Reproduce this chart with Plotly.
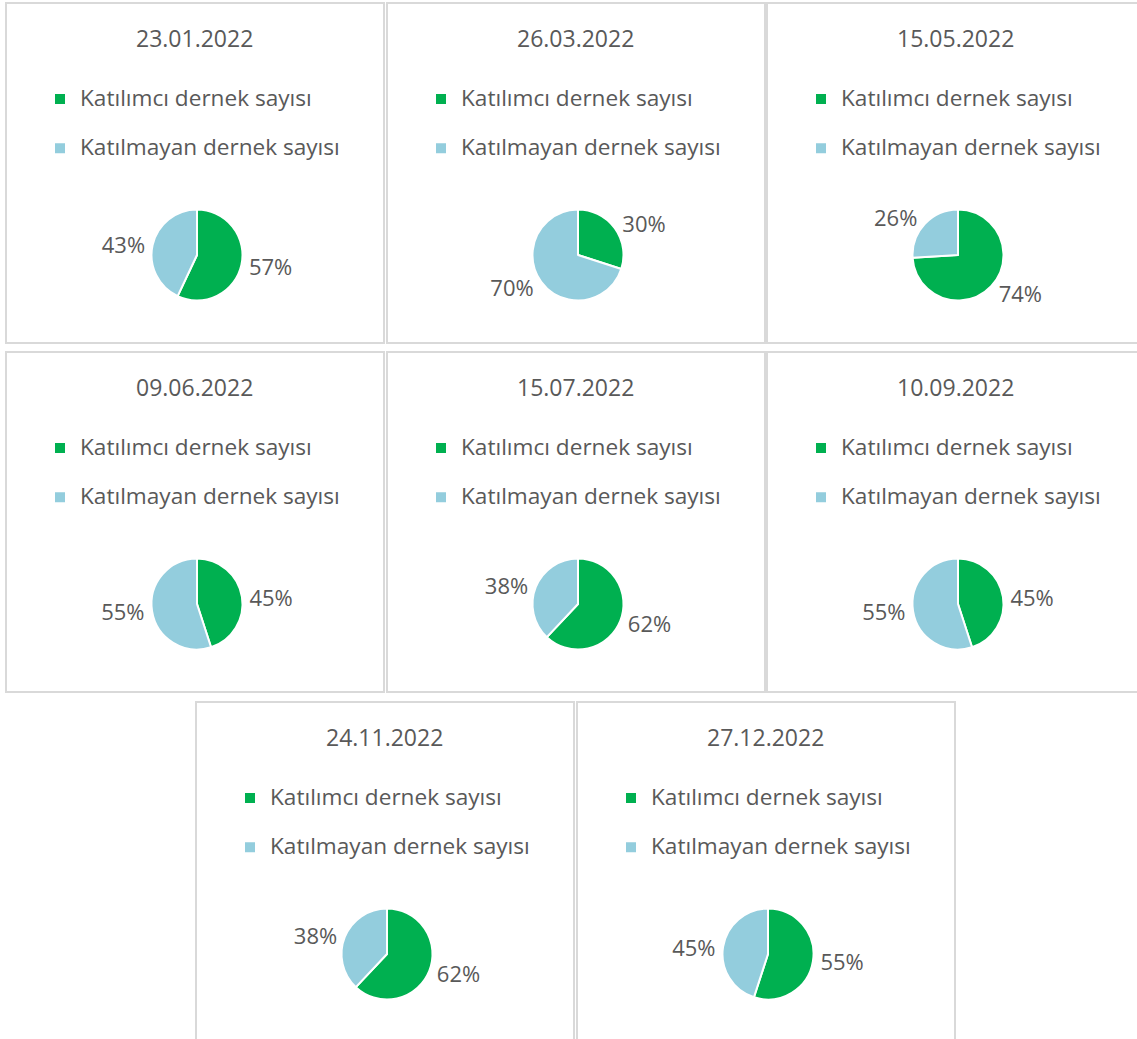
import plotly.graph_objects as go

# ---- data ----
dates = ["23.01.2022", "26.03.2022", "15.05.2022", "09.06.2022",
         "15.07.2022", "10.09.2022", "24.11.2022", "27.12.2022"]
labels = ["Katılımcı dernek sayısı", "Katılmayan dernek sayısı"]
katilimci = [57, 30, 74, 45, 62, 45, 62, 55]
katilmayan = [43, 70, 26, 55, 38, 55, 38, 45]
colors = ["#00B050", "#93CDDD"]

# ---- layout geometry (pixels) ----
W, H = 1137, 1039
panel_origins = [(6, 3), (387, 3), (767, 3),
                 (6, 352), (387, 352), (767, 352),
                 (196, 702), (577, 702)]
PW, PH = 378, 340
R = 45.5
FONT = "Open Sans"
TXT = "#595959"

def px_x(x):
    return x / W

def px_y(y):
    return 1 - y / H

fig = go.Figure()
legends = {}
annotations = []
shapes = []

for i, (left, top) in enumerate(panel_origins):
    cx, cy = left + 191, top + 252
    lid = "legend" if i == 0 else f"legend{i + 1}"
    # each panel gets its own legend; a trailing invisible spacer line gives
    # the item spacing (and keeps labels distinct per legend)
    disp_labels = [f'<span style="font-size:22.6px">{l}</span><br>' + " " * (i + 1)
                   for l in labels]
    fig.add_trace(go.Pie(
        labels=disp_labels,
        values=[katilimci[i], katilmayan[i]],
        sort=False,
        direction="clockwise",
        rotation=0,
        marker=dict(colors=colors, line=dict(color="white", width=2)),
        textinfo="percent",
        texttemplate="%{percent:.0%}",
        textposition="outside",
        textfont=dict(size=22, color=TXT, family=FONT),
        hoverinfo="none",
        domain=dict(x=[px_x(cx - R), px_x(cx + R)],
                    y=[px_y(cy + R), px_y(cy - R)]),
        legend=lid,
        showlegend=True,
    ))
    legends[lid] = dict(
        x=px_x(left + 34), y=px_y(top + 78),
        xanchor="left", yanchor="top",
        valign="top",
        font=dict(size=17.8, color=TXT, family=FONT),
        bgcolor="rgba(0,0,0,0)",
    )
    annotations.append(dict(
        text=dates[i], x=px_x(left + 188), y=px_y(top + 35),
        xref="paper", yref="paper", showarrow=False,
        xanchor="center", yanchor="middle",
        font=dict(size=23, color=TXT, family=FONT),
    ))
    shapes.append(dict(
        type="rect", xref="paper", yref="paper",
        x0=px_x(left), x1=px_x(left + PW),
        y0=px_y(top + PH), y1=px_y(top),
        line=dict(color="#D9D9D9", width=2),
        fillcolor="rgba(0,0,0,0)", layer="below",
    ))

fig.update_layout(
    width=W, height=H, autosize=False,
    margin=dict(l=0, r=0, t=0, b=0),
    paper_bgcolor="white", plot_bgcolor="white",
    annotations=annotations, shapes=shapes,
    **legends,
)

fig.write_html("out.html")
